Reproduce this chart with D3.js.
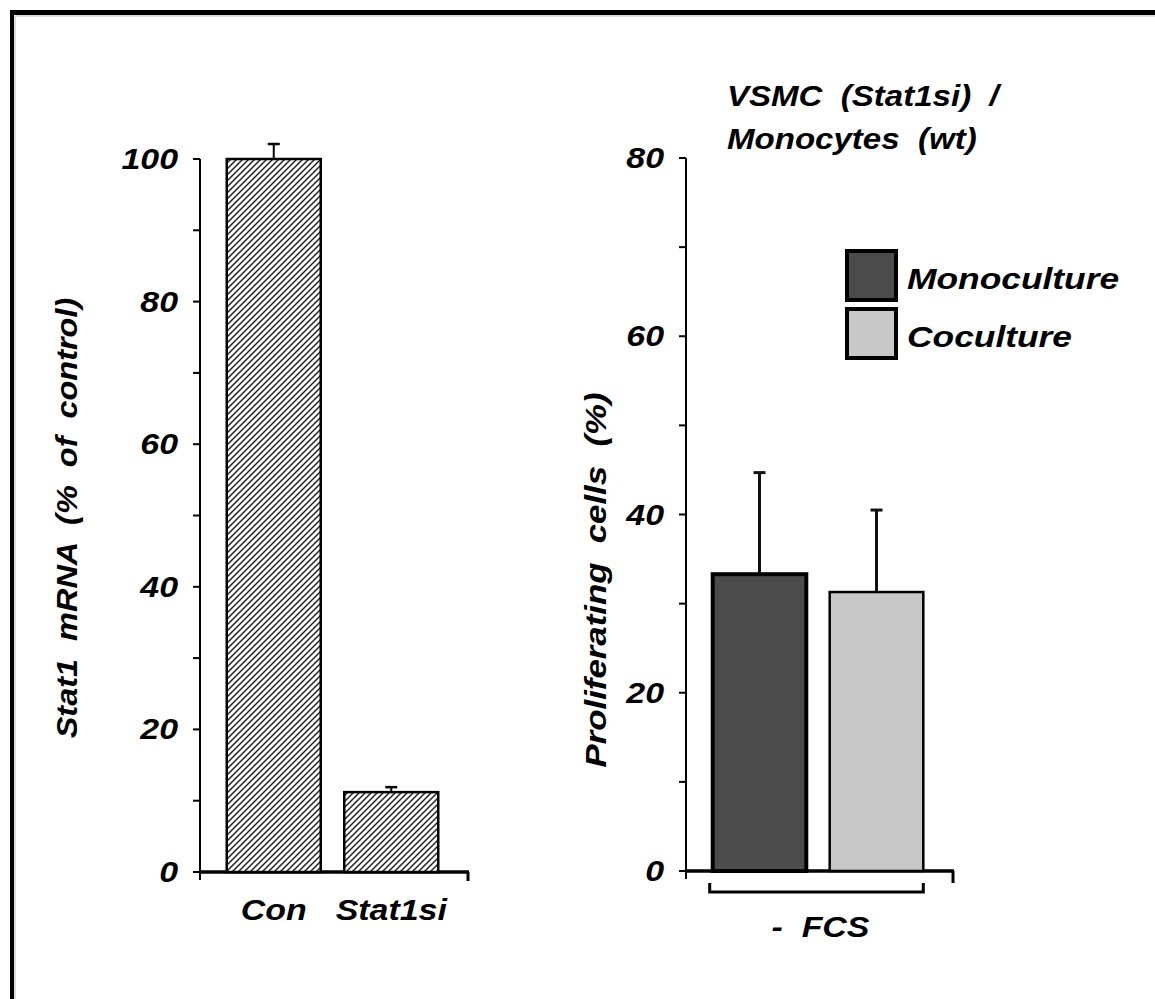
<!DOCTYPE html>
<html>
<head>
<meta charset="utf-8">
<script src="https://d3js.org/d3.v7.min.js"></script>
<style>
  body { margin: 0; background: #fff; }
  text { font-family: "Liberation Sans", Arial, sans-serif; font-weight: bold; font-style: italic; fill: #000; white-space: pre; }
</style>
</head>
<body>
<script>
// left panel: Stat1 knockdown
var leftCats = ["Con", "Stat1si"];
var leftVals = [100, 11.2];
var leftErr = [2.1, 0.7];
var leftTicks = [0, 10, 20, 30, 40, 50, 60, 70, 80, 90, 100];
var leftLabels = [0, 20, 40, 60, 80, 100];

// right panel: proliferation
var rightCats = ["Monoculture", "Coculture"];
var rightVals = [33.3, 31.3];
var rightErr = [11.4, 9.2];
var rightTicks = [0, 10, 20, 30, 40, 50, 60, 70, 80];
var rightLabels = [0, 20, 40, 60, 80];
var rightColors = ["#4b4b4b", "#c8c8c8"];

var W = 1155, H = 999, FS = 29, SX = 1.17;

var svg = d3.select("body").append("svg")
  .attr("width", W).attr("height", H);
svg.append("rect").attr("width", W).attr("height", H).attr("fill", "#fff");

// hatch pattern
var pat = svg.append("defs").append("pattern")
  .attr("id", "hatch").attr("patternUnits", "userSpaceOnUse")
  .attr("width", 6).attr("height", 6);
pat.append("rect").attr("width", 6).attr("height", 6).attr("fill", "#fff");
pat.append("path").attr("d", "M0,6 L6,0 M-1,1 L1,-1 M5,7 L7,5")
  .attr("stroke", "#222").attr("stroke-width", 1.5);

// frame
svg.append("line").attr("x1", 10).attr("x2", W).attr("y1", 12.5).attr("y2", 12.5)
  .attr("stroke", "#000").attr("stroke-width", 5);
svg.append("line").attr("x1", 12).attr("x2", 12).attr("y1", 10).attr("y2", H)
  .attr("stroke", "#000").attr("stroke-width", 4);
svg.append("line").attr("x1", 15).attr("x2", W).attr("y1", 16).attr("y2", 16)
  .attr("stroke", "#bbb").attr("stroke-width", 1);
svg.append("line").attr("x1", 15).attr("x2", 15).attr("y1", 16).attr("y2", H)
  .attr("stroke", "#bbb").attr("stroke-width", 1);

function label(str, x, y, anchor, rot, sx) {
  var t = "translate(" + x + "," + y + ")" + (rot ? " rotate(-90)" : "") + " scale(" + (sx || SX) + ",1)";
  return svg.append("text").attr("transform", t)
    .attr("text-anchor", anchor || "start")
    .attr("font-size", FS).text(str);
}

function yAxis(y, x0, ticks, labels) {
  svg.append("line").attr("x1", x0).attr("x2", x0)
    .attr("y1", y.range()[1]).attr("y2", y.range()[0] + 8)
    .attr("stroke", "#000").attr("stroke-width", 2);
  svg.selectAll(null).data(ticks).enter().append("line")
    .attr("x1", x0 - 7).attr("x2", x0)
    .attr("y1", function(d) { return y(d); }).attr("y2", function(d) { return y(d); })
    .attr("stroke", "#000").attr("stroke-width", 2);
  labels.forEach(function(d) { label(String(d), x0 - 22, y(d) + 10, "end"); });
}

// ---------- left panel ----------
var yL = d3.scaleLinear().domain([0, 100]).range([872, 159]);
var xL = d3.scaleBand().domain(leftCats).range([215, 450]).paddingInner(0.2).paddingOuter(0.1);

yAxis(yL, 200, leftTicks, leftLabels);
svg.append("line").attr("x1", 199).attr("x2", 469).attr("y1", yL(0)).attr("y2", yL(0))
  .attr("stroke", "#000").attr("stroke-width", 3.5);
svg.append("line").attr("x1", 468).attr("x2", 468).attr("y1", yL(0)).attr("y2", yL(0) + 9)
  .attr("stroke", "#000").attr("stroke-width", 3);

leftCats.forEach(function(c, i) {
  var cx = xL(c) + xL.bandwidth() / 2;
  svg.append("line").attr("x1", cx).attr("x2", cx)
    .attr("y1", yL(leftVals[i])).attr("y2", yL(leftVals[i] + leftErr[i]))
    .attr("stroke", "#000").attr("stroke-width", 2);
  svg.append("line").attr("x1", cx - 6).attr("x2", cx + 6)
    .attr("y1", yL(leftVals[i] + leftErr[i])).attr("y2", yL(leftVals[i] + leftErr[i]))
    .attr("stroke", "#000").attr("stroke-width", 2.5);
  svg.append("rect").attr("x", xL(c)).attr("y", yL(leftVals[i]))
    .attr("width", xL.bandwidth()).attr("height", yL(0) - yL(leftVals[i]))
    .attr("fill", "url(#hatch)").attr("stroke", "#000").attr("stroke-width", 2.5);
  label(c, cx, 920, "middle");
});

label("Stat1  mRNA  (%  of  control)", 77, 518, "middle", true, 1.12);

// ---------- right panel ----------
var yR = d3.scaleLinear().domain([0, 80]).range([871, 158]);
var xR = d3.scaleBand().domain(rightCats).range([701, 935]).paddingInner(0.2).paddingOuter(0.1);

yAxis(yR, 686, rightTicks, rightLabels);
svg.append("line").attr("x1", 685).attr("x2", 954).attr("y1", yR(0)).attr("y2", yR(0))
  .attr("stroke", "#000").attr("stroke-width", 3.5);
svg.append("line").attr("x1", 953).attr("x2", 953).attr("y1", yR(0)).attr("y2", yR(0) + 12)
  .attr("stroke", "#000").attr("stroke-width", 3);

rightCats.forEach(function(c, i) {
  var cx = xR(c) + xR.bandwidth() / 2;
  var top = yR(rightVals[i] + rightErr[i]);
  svg.append("line").attr("x1", cx).attr("x2", cx)
    .attr("y1", yR(rightVals[i])).attr("y2", top)
    .attr("stroke", "#111").attr("stroke-width", 3);
  svg.append("line").attr("x1", cx - 6).attr("x2", cx + 6).attr("y1", top).attr("y2", top)
    .attr("stroke", "#111").attr("stroke-width", 3);
  svg.append("rect").attr("x", xR(c)).attr("y", yR(rightVals[i]))
    .attr("width", xR.bandwidth()).attr("height", yR(0) - yR(rightVals[i]))
    .attr("fill", rightColors[i]).attr("stroke", "#000").attr("stroke-width", i === 0 ? 4 : 2.5);
});

// bracket under the group
var bx0 = xR(rightCats[0]) - 3, bx1 = xR(rightCats[1]) + xR.bandwidth();
svg.append("path")
  .attr("d", "M" + bx0 + ",883 V892 H" + bx1 + " V883")
  .attr("fill", "none").attr("stroke", "#000").attr("stroke-width", 3);
label("-  FCS", (bx0 + bx1) / 2 + 4, 937, "middle");

label("Proliferating  cells  (%)", 606, 580, "middle", true, 1.2);

// panel title
label("VSMC  (Stat1si)  /", 727, 106, "start", false, 1.14);
label("Monocytes  (wt)", 727, 149, "start", false, 1.14);

// legend
rightCats.forEach(function(c, i) {
  var ly = 251 + i * 58;
  svg.append("rect").attr("x", 847).attr("y", ly).attr("width", 49).attr("height", 49)
    .attr("fill", rightColors[i]).attr("stroke", "#000").attr("stroke-width", 4);
  label(c, 907, ly + 38, "start", false, 1.22);
});
</script>
</body>
</html>
